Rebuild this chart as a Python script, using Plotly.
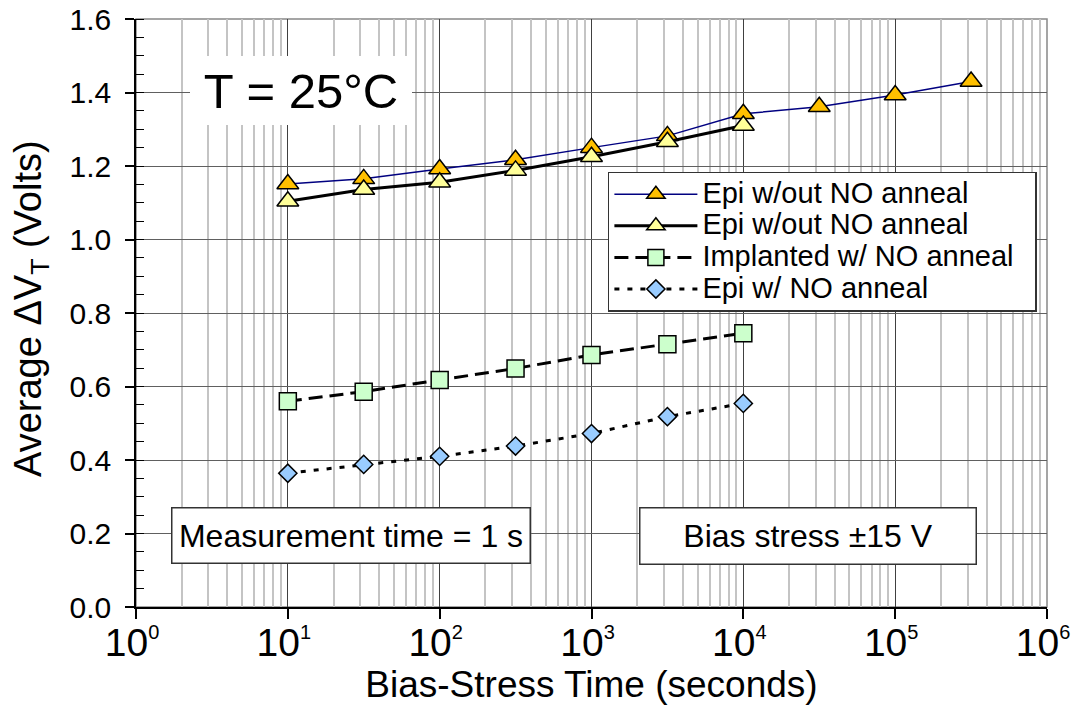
import plotly.graph_objects as go

# ---- data ----
t_long = [10, 31.6, 100, 316, 1000, 3162, 10000, 31623, 100000, 316228]
epi_noanneal_a = [1.151, 1.165, 1.192, 1.217, 1.250, 1.282, 1.342, 1.361, 1.393, 1.430]

t_short = [10, 31.6, 100, 316, 1000, 3162, 10000]
epi_noanneal_b = [1.104, 1.136, 1.156, 1.188, 1.225, 1.266, 1.310]
implanted_no = [0.560, 0.586, 0.618, 0.649, 0.686, 0.715, 0.745]
epi_no = [0.364, 0.388, 0.410, 0.438, 0.472, 0.518, 0.554]

series_names = ["Epi w/out NO anneal", "Epi w/out NO anneal", "Implanted w/ NO anneal", "Epi w/ NO anneal"]

x_tickvals = [1, 10, 100, 1000, 10000, 100000, 1000000]
x_exponents = ["0", "1", "2", "3", "4", "5", "6"]
x_ticktext = ["10<sup><span style='font-size:20px'>%s</span></sup>" % e for e in x_exponents]
x_minorvals = [m * 10 ** d for d in range(6) for m in range(2, 10)]
y_tickvals = [0.0, 0.2, 0.4, 0.6, 0.8, 1.0, 1.2, 1.4, 1.6]

FONT = "Liberation Sans, Arial, sans-serif"


def leg(name):
    return "<span style='font-size:29px'>%s&nbsp;&nbsp;</span>" % name


fig = go.Figure()

fig.add_trace(go.Scatter(
    x=t_long, y=epi_noanneal_a, name=leg(series_names[0]), mode="lines+markers",
    line=dict(color="#000080", width=1.5),
    marker=dict(symbol="triangle-up", size=19, color="#FFC000", line=dict(color="black", width=1.5)),
))
fig.add_trace(go.Scatter(
    x=t_short, y=epi_noanneal_b, name=leg(series_names[1]), mode="lines+markers",
    line=dict(color="black", width=3),
    marker=dict(symbol="triangle-up", size=19, color="#FFFF99", line=dict(color="black", width=1.5)),
))
fig.add_trace(go.Scatter(
    x=t_short, y=implanted_no, name=leg(series_names[2]), mode="lines+markers",
    line=dict(color="black", width=3, dash="14px,7px"),
    marker=dict(symbol="square", size=17, color="#CCFFCC", line=dict(color="black", width=1.5)),
))
fig.add_trace(go.Scatter(
    x=t_short, y=epi_no, name=leg(series_names[3]), mode="lines+markers",
    line=dict(color="black", width=3, dash="5px,8px"),
    marker=dict(symbol="diamond", size=14, color="#99CCFF", line=dict(color="black", width=1.5)),
))

fig.update_xaxes(
    type="log", range=[0, 6.00001], automargin=False,
    tickvals=x_tickvals, ticktext=x_ticktext, ticklabeloverflow="allow",
    ticklabelstandoff=-10, ticklabelshift=-4,
    ticks="outside", ticklen=10, tickwidth=1.5, tickcolor="black",
    showline=True, linecolor="black", linewidth=1.5,
    showgrid=True, gridcolor="#404040", gridwidth=1,
    minor=dict(tickvals=x_minorvals, showgrid=True, gridcolor="#C4C4C4", gridwidth=1.5, ticks=""),
    tickfont=dict(family=FONT, size=39, color="black"),
    title=dict(text="Bias-Stress Time (seconds)", font=dict(family=FONT, size=37, color="black"), standoff=6),
    zeroline=False,
)
fig.update_yaxes(
    range=[0, 1.6], tickvals=y_tickvals, tickformat=".1f", automargin=False,
    ticks="outside", ticklen=9, tickwidth=1.5, tickcolor="black",
    showline=True, linecolor="black", linewidth=1.5,
    showgrid=True, gridcolor="#606060", gridwidth=1,
    minor=dict(dtick=0.05, ticks="inside", ticklen=8, tickwidth=1.2, tickcolor="black", showgrid=False),
    tickfont=dict(family=FONT, size=30, color="black"),
    ticklabelstandoff=8,
    zeroline=False,
)

fig.add_shape(type="rect", xref="paper", yref="paper", x0=0, x1=1, y0=0, y1=1,
              line=dict(color="#888888", width=1.5), layer="below")

# y-axis title
fig.add_annotation(xref="paper", yref="paper", x=-0.1145, y=0.508, xanchor="center", yanchor="middle",
                   text="Average ΔV<sub>T</sub> (Volts)", textangle=-90, showarrow=False,
                   font=dict(family=FONT, size=38, color="black"))

fig.add_annotation(xref="paper", yref="paper", x=0.1811, y=0.8784, xanchor="center", yanchor="middle",
                   text="T = 25°C", showarrow=False, bgcolor="white", borderwidth=0,
                   width=220, height=67, font=dict(family=FONT, size=49, color="black"))
fig.add_annotation(xref="paper", yref="paper", x=0.236, y=0.1216, xanchor="center", yanchor="middle",
                   text="Measurement time = 1 s", showarrow=False, bgcolor="white",
                   bordercolor="#333333", borderwidth=1.5, borderpad=0,
                   width=357, height=54, font=dict(family=FONT, size=32, color="black"))
fig.add_annotation(xref="paper", yref="paper", x=0.7377, y=0.1207, xanchor="center", yanchor="middle",
                   text="Bias stress ±15 V", showarrow=False, bgcolor="white",
                   bordercolor="#333333", borderwidth=1.5, borderpad=0,
                   width=335, height=55, font=dict(family=FONT, size=32, color="black"))

fig.update_layout(
    width=1071, height=708,
    margin=dict(l=136, r=24, t=19, b=101, autoexpand=False),
    paper_bgcolor="white", plot_bgcolor="white",
    font=dict(family=FONT, color="black"),
    showlegend=True,
    legend=dict(x=0.518, y=0.740, xanchor="left", yanchor="top",
                bgcolor="white", bordercolor="#333333", borderwidth=1.5,
                font=dict(family=FONT, size=22, color="black"),
                itemwidth=83, tracegroupgap=0),
)

fig.write_html("out.html")
